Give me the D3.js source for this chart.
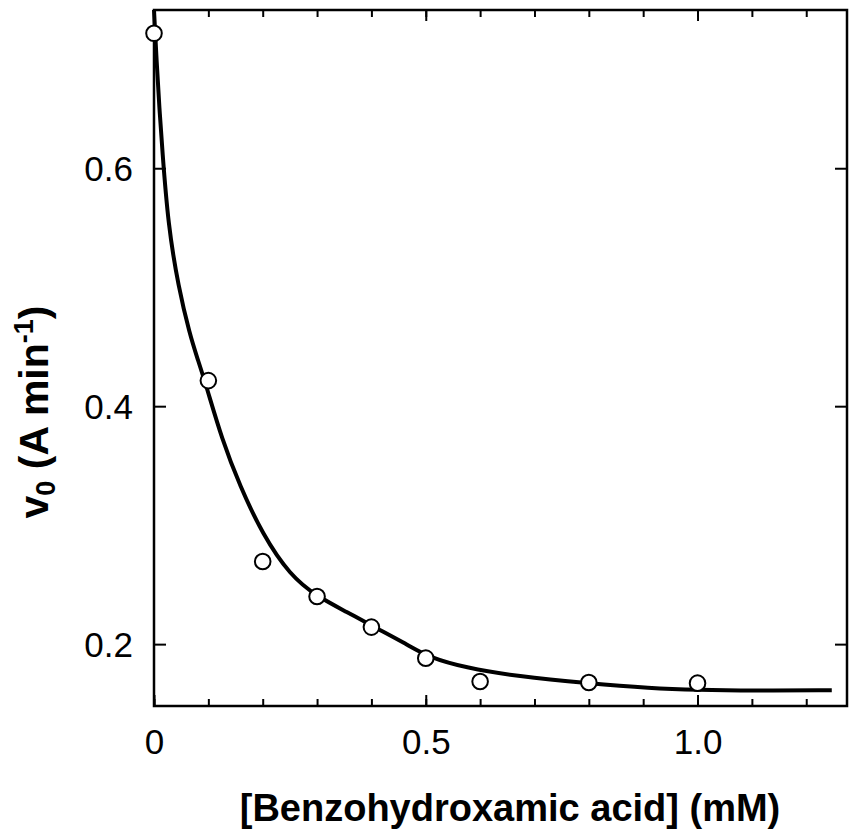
<!DOCTYPE html>
<html>
<head>
<meta charset="utf-8">
<script src="https://cdn.jsdelivr.net/npm/d3@7"></script>
<style>
  body { margin: 0; background: #fff; }
  svg { display: block; }
  text { font-family: "Liberation Sans", Arial, Helvetica, sans-serif; fill: #000; }
</style>
</head>
<body>
<div class="chart"></div>
<script>
// measured points
var concs = [0, 0.1, 0.2, 0.3, 0.4, 0.5, 0.6, 0.8, 1.0];
var rates = [0.7134, 0.4215, 0.2694, 0.240, 0.2143, 0.1882, 0.1686, 0.1677, 0.1672];

// fitted curve
var fitX = [0, 0.005, 0.01, 0.015, 0.026, 0.045, 0.066, 0.08, 0.095, 0.125, 0.158, 0.2, 0.25, 0.3,
  0.355, 0.407, 0.465, 0.505, 0.575, 0.667, 0.8, 0.913, 1.0, 1.1, 1.247];
var fitY = [0.733, 0.688, 0.650, 0.617, 0.552, 0.500, 0.460, 0.440, 0.419, 0.372, 0.333, 0.292, 0.258, 0.240,
  0.227, 0.214, 0.200, 0.189, 0.180, 0.173, 0.167, 0.163, 0.1616, 0.161, 0.1612];

var xMinorTicks = [0, 0.1, 0.2, 0.3, 0.4, 0.5, 0.6, 0.7, 0.8, 0.9, 1.0, 1.1, 1.2];
var xMajorTicks = [0, 0.5, 1.0];
var xTickLabels = ["0", "0.5", "1.0"];
var yTicks = [0.2, 0.4, 0.6];
var yTickLabels = ["0.2", "0.4", "0.6"];

var svgWidth = 856;
var svgHeight = 838;

var margin = { top: 10, right: 9, bottom: 132, left: 154 };
var width = svgWidth - margin.left - margin.right;
var height = svgHeight - margin.top - margin.bottom;

var svg = d3.select(".chart")
  .append("svg")
  .attr("width", svgWidth)
  .attr("height", svgHeight);

var chartGroup = svg.append("g")
  .attr("transform", `translate(${margin.left}, ${margin.top})`);

var xScale = d3.scaleLinear().domain([0, 1.275]).range([0, width]);
var yScale = d3.scaleLinear().domain([0.148, 0.733]).range([height, 0]);

function styleAxis(g) {
  g.select(".domain").remove();
  g.selectAll(".tick line").attr("stroke", "#000").attr("stroke-width", 2);
}

// bottom + top minor ticks (inward)
chartGroup.append("g")
  .attr("transform", `translate(0, ${height})`)
  .call(d3.axisBottom(xScale).tickValues(xMinorTicks).tickSize(-7).tickFormat(""))
  .call(styleAxis);
chartGroup.append("g")
  .call(d3.axisTop(xScale).tickValues(xMinorTicks).tickSize(-7).tickFormat(""))
  .call(styleAxis);

// major ticks with labels
chartGroup.append("g")
  .attr("transform", `translate(0, ${height})`)
  .call(d3.axisBottom(xScale).tickValues(xMajorTicks).tickSize(-11).tickPadding(0)
    .tickFormat((d, i) => xTickLabels[i]))
  .call(styleAxis)
  .call(g => g.selectAll("text")
    .attr("y", 48).attr("dy", 0)
    .style("font-size", "35px"));
chartGroup.append("g")
  .call(d3.axisTop(xScale).tickValues(xMajorTicks).tickSize(-11).tickFormat(""))
  .call(styleAxis);

// y ticks left + right
chartGroup.append("g")
  .call(d3.axisLeft(yScale).tickValues(yTicks).tickSize(-12)
    .tickFormat((d, i) => yTickLabels[i]))
  .call(styleAxis)
  .call(g => g.selectAll("text")
    .attr("x", -21).attr("dy", "0.35em")
    .style("font-size", "35px"));
chartGroup.append("g")
  .attr("transform", `translate(${width}, 0)`)
  .call(d3.axisRight(yScale).tickValues(yTicks).tickSize(-12).tickFormat(""))
  .call(styleAxis);

// frame
chartGroup.append("rect")
  .attr("x", 0).attr("y", 0)
  .attr("width", width).attr("height", height)
  .attr("fill", "none")
  .attr("stroke", "#000")
  .attr("stroke-width", 2.5);

// fitted line
var fitData = fitX.map((x, i) => ({ x: x, y: fitY[i] }));
var line = d3.line()
  .x(d => xScale(d.x))
  .y(d => yScale(d.y))
  .curve(d3.curveBasis);

chartGroup.append("path")
  .datum(fitData)
  .attr("d", line)
  .attr("fill", "none")
  .attr("stroke", "#000")
  .attr("stroke-width", 4);

// circles
var pts = concs.map((c, i) => ({ x: c, y: rates[i] }));
chartGroup.selectAll("circle")
  .data(pts)
  .enter()
  .append("circle")
  .attr("cx", d => xScale(d.x))
  .attr("cy", d => yScale(d.y))
  .attr("r", 7.8)
  .attr("fill", "#fff")
  .attr("stroke", "#000")
  .attr("stroke-width", 2);

// axis titles
svg.append("text")
  .attr("x", 510)
  .attr("y", 821)
  .attr("text-anchor", "middle")
  .style("font-size", "38px")
  .style("font-weight", "bold")
  .text("[Benzohydroxamic acid] (mM)");

var yTitle = svg.append("text")
  .attr("transform", "translate(48, 412) rotate(-90)")
  .attr("text-anchor", "middle")
  .style("font-size", "41px")
  .style("font-weight", "bold");
yTitle.append("tspan").text("v");
yTitle.append("tspan").attr("baseline-shift", "-25%").style("font-size", "27px").text("0");
yTitle.append("tspan").text(" (A min");
yTitle.append("tspan").attr("baseline-shift", "super").style("font-size", "27px").text("-1");
yTitle.append("tspan").text(")");
</script>
</body>
</html>
